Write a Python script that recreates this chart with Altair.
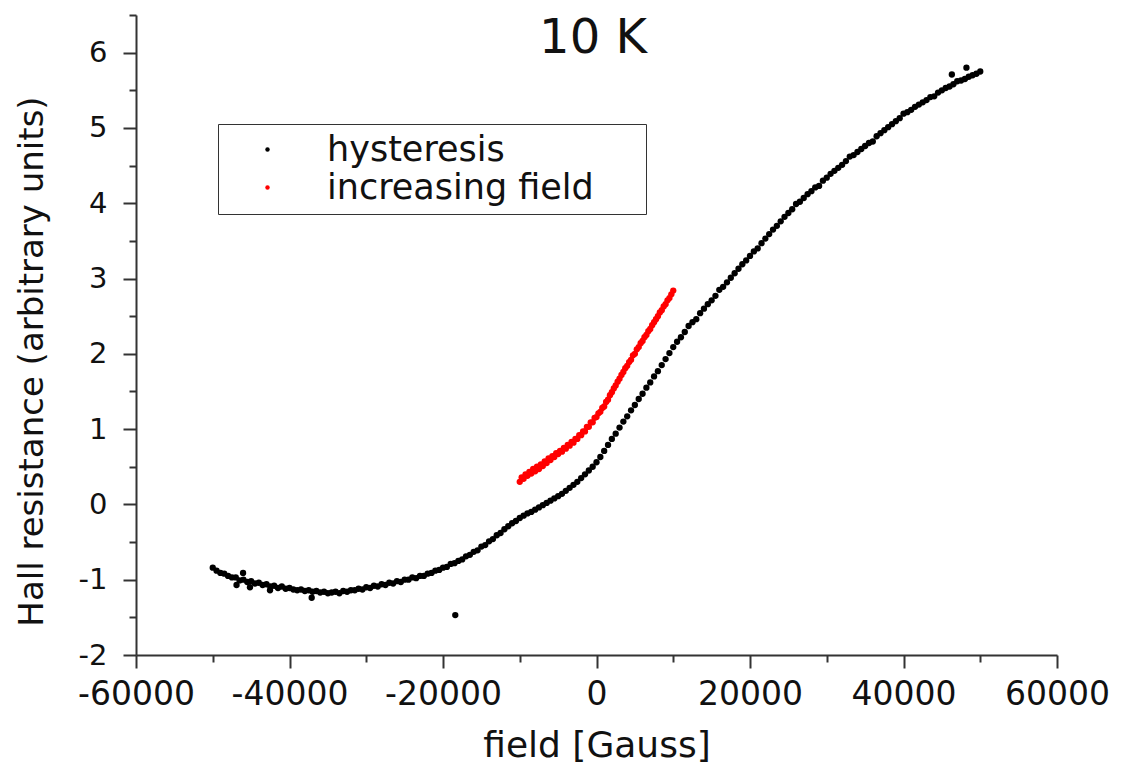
import altair as alt
import pandas as pd

# ---- hysteresis loop (black), field in Gauss ----
hyst_field = [
    -50000, -49500, -49000, -48500, -48000, -47500, -47000, -46500, -46000, -45500,
    -45000, -44500, -44000, -43500, -43000, -42500, -42000, -41500, -41000, -40500,
    -40000, -39500, -39000, -38500, -38000, -37500, -37000, -36500, -36000, -35500,
    -35000, -34500, -34000, -33500, -33000, -32500, -32000, -31500, -31000, -30500,
    -30000, -29500, -29000, -28500, -28000, -27500, -27000, -26500, -26000, -25500,
    -25000, -24500, -24000, -23500, -23000, -22500, -22000, -21500, -21000, -20500,
    -20000, -19500, -19000, -18500, -18000, -17500, -17000, -16500, -16000, -15500,
    -15000, -14500, -14000, -13500, -13000, -12500, -12000, -11500, -11000, -10500,
    -10000, -9500, -9000, -8500, -8000, -7500, -7000, -6500, -6000, -5500,
    -5000, -4500, -4000, -3500, -3000, -2500, -2000, -1500, -1000, -500,
    0, 500, 1000, 1500, 2000, 2500, 3000, 3500, 4000, 4500,
    5000, 5500, 6000, 6500, 7000, 7500, 8000, 8500, 9000, 9500,
    10000, 10500, 11000, 11500, 12000, 12500, 13000, 13500, 14000, 14500,
    15000, 15500, 16000, 16500, 17000, 17500, 18000, 18500, 19000, 19500,
    20000, 20500, 21000, 21500, 22000, 22500, 23000, 23500, 24000, 24500,
    25000, 25500, 26000, 26500, 27000, 27500, 28000, 28500, 29000, 29500,
    30000, 30500, 31000, 31500, 32000, 32500, 33000, 33500, 34000, 34500,
    35000, 35500, 36000, 36500, 37000, 37500, 38000, 38500, 39000, 39500,
    40000, 40500, 41000, 41500, 42000, 42500, 43000, 43500, 44000, 44500,
    45000, 45500, 46000, 46500, 47000, 47500, 48000, 48500, 49000, 49500,
    50000,
]
hyst_value = [
    -0.84, -0.88, -0.91, -0.92, -0.95, -0.97, -0.97, -1.01, -1.00, -1.03,
    -1.02, -1.05, -1.04, -1.07, -1.06, -1.09, -1.08, -1.11, -1.09, -1.12,
    -1.11, -1.13, -1.14, -1.13, -1.15, -1.14, -1.16, -1.15, -1.17, -1.16,
    -1.18, -1.17, -1.16, -1.18, -1.15, -1.16, -1.14, -1.14, -1.12, -1.13,
    -1.10, -1.11, -1.08, -1.09, -1.06, -1.07, -1.04, -1.05, -1.02, -1.03,
    -1.00, -1.00, -0.97, -0.98, -0.95, -0.95, -0.92, -0.91, -0.88, -0.87,
    -0.84, -0.83, -0.79, -0.78, -0.75, -0.73, -0.69, -0.67, -0.63, -0.61,
    -0.56, -0.54, -0.49, -0.46, -0.41, -0.38, -0.33, -0.29, -0.25, -0.22,
    -0.18, -0.15, -0.12, -0.10, -0.07, -0.04, -0.01, 0.02, 0.05, 0.08,
    0.11, 0.14, 0.18, 0.22, 0.26, 0.30, 0.35, 0.40, 0.45, 0.50,
    0.56, 0.63, 0.71, 0.79, 0.87, 0.94, 1.02, 1.10, 1.17, 1.25,
    1.32, 1.40, 1.47, 1.55, 1.62, 1.70, 1.77, 1.85, 1.93, 2.01,
    2.09, 2.16, 2.22, 2.29, 2.37, 2.42, 2.46, 2.54, 2.60, 2.66,
    2.71, 2.77, 2.85, 2.89, 2.95, 3.01, 3.07, 3.13, 3.19, 3.24,
    3.30, 3.36, 3.40, 3.47, 3.53, 3.59, 3.65, 3.70, 3.76, 3.82,
    3.87, 3.92, 3.99, 4.02, 4.07, 4.12, 4.16, 4.21, 4.23, 4.30,
    4.34, 4.39, 4.43, 4.47, 4.51, 4.56, 4.62, 4.64, 4.68, 4.72,
    4.76, 4.80, 4.82, 4.89, 4.93, 4.97, 5.01, 5.05, 5.09, 5.13,
    5.19, 5.21, 5.24, 5.28, 5.31, 5.34, 5.37, 5.41, 5.42, 5.47,
    5.50, 5.53, 5.55, 5.58, 5.62, 5.63, 5.65, 5.68, 5.70, 5.72,
    5.75,
]
# scattered stray points of the hysteresis sweep
stray_field = [-46900, -46050, -45150, -42540, -37110, -18400, 46300, 48200]
stray_value = [-1.07, -0.91, -1.10, -1.14, -1.24, -1.47, 5.71, 5.80]

# ---- increasing field (red) ----
inc_field = [
    -10000, -9750, -9500, -9250, -9000, -8750, -8500, -8250, -8000, -7750,
    -7500, -7250, -7000, -6750, -6500, -6250, -6000, -5750, -5500, -5250,
    -5000, -4750, -4500, -4250, -4000, -3750, -3500, -3250, -3000, -2750,
    -2500, -2250, -2000, -1750, -1500, -1250, -1000, -750, -500, -250,
    0, 250, 500, 750, 1000, 1250, 1500, 1750, 2000, 2250,
    2500, 2750, 3000, 3250, 3500, 3750, 4000, 4250, 4500, 4750,
    5000, 5250, 5500, 5750, 6000, 6250, 6500, 6750, 7000, 7250,
    7500, 7750, 8000, 8250, 8500, 8750, 9000, 9250, 9500, 9750,
    10000,
]
inc_value = [
    0.30, 0.36, 0.34, 0.40, 0.38, 0.43, 0.41, 0.47, 0.44, 0.50,
    0.47, 0.53, 0.51, 0.57, 0.55, 0.61, 0.59, 0.64, 0.63, 0.68,
    0.67, 0.71, 0.70, 0.75, 0.74, 0.79, 0.78, 0.83, 0.82, 0.87,
    0.87, 0.92, 0.92, 0.97, 0.97, 1.03, 1.03, 1.09, 1.09, 1.15,
    1.16, 1.21, 1.23, 1.28, 1.30, 1.36, 1.39, 1.45, 1.49, 1.54,
    1.58, 1.63, 1.67, 1.72, 1.76, 1.81, 1.84, 1.89, 1.92, 1.98,
    2.00, 2.06, 2.09, 2.14, 2.17, 2.22, 2.25, 2.30, 2.33, 2.38,
    2.42, 2.46, 2.50, 2.55, 2.58, 2.63, 2.66, 2.71, 2.74, 2.79,
    2.84,
]

series_names = ["hysteresis", "increasing field"]
series_colors = ["#000000", "#ff0000"]
title_text = ["10 K"]

x_ticks = [-60000, -50000, -40000, -30000, -20000, -10000, 0,
           10000, 20000, 30000, 40000, 50000, 60000]
y_ticks = [-2, -1.5, -1, -0.5, 0, 0.5, 1, 1.5, 2, 2.5, 3, 3.5,
           4, 4.5, 5, 5.5, 6, 6.5]

df = pd.concat([
    pd.DataFrame({"field": hyst_field, "value": hyst_value, "series": series_names[0]}),
    pd.DataFrame({"field": stray_field, "value": stray_value, "series": series_names[0]}),
    pd.DataFrame({"field": inc_field, "value": inc_value, "series": series_names[1]}),
], ignore_index=True)

FONT = "DejaVu Sans"
AXC = "#333333"

points = alt.Chart(df).mark_circle(size=40, opacity=1).encode(
    x=alt.X(
        "field:Q",
        scale=alt.Scale(domain=[-60000, 60000], nice=False, zero=False),
        axis=alt.Axis(
            values=x_ticks,
            title="field [Gauss]",
            labelExpr="datum.value % 20000 == 0 ? '' + datum.value : ''",
            tickSize={"condition": {"test": "datum.value % 20000 == 0", "value": 13}, "value": 7},
            labelFontSize=33,
            labelPadding=10,
            labelFlush=False,
            labelOverlap=False,
            titleFontSize=36,
            titleBaseline="alphabetic",
            titleY=101,
        ),
    ),
    y=alt.Y(
        "value:Q",
        scale=alt.Scale(domain=[-2, 6.5], nice=False, zero=False),
        axis=alt.Axis(
            values=y_ticks,
            title="Hall resistance (arbitrary units)",
            labelExpr="datum.value % 1 == 0 ? '' + datum.value : ''",
            tickSize={"condition": {"test": "datum.value % 1 == 0", "value": 13}, "value": 7},
            labelFontSize=29,
            labelPadding=16,
            labelOverlap=False,
            titleFontSize=34,
            titleBaseline="alphabetic",
            titleAngle=270,
            titleAlign="center",
            titleX=-94,
            titleY=346,
        ),
    ),
    color=alt.Color(
        "series:N",
        scale=alt.Scale(domain=series_names, range=series_colors),
        legend=alt.Legend(
            title=None,
            orient="none",
            legendX=82,
            legendY=109,
            strokeColor=AXC,
            padding=8,
            labelFont=FONT,
            labelFontSize=35,
            labelColor="#111111",
            labelLimit=500,
            labelOffset=42,
            symbolOffset=24,
            symbolType="circle",
            symbolSize=20,
            symbolStrokeWidth=0,
            rowPadding=2,
            labelExpr="datum.label + '\u2800\u00a0\u2009\u200b'",
        ),
    ),
)

title = alt.Chart(pd.DataFrame({"t": title_text})).mark_text(
    font=FONT, fontSize=48, color="#111111", align="center", baseline="alphabetic",
).encode(
    text="t:N",
    x=alt.value(457),
    y=alt.value(38),
)

chart = alt.layer(points, title).properties(
    width=921,
    height=640,
    autosize=alt.AutoSizeParams(type="none"),
    padding={"left": 128, "top": 7, "right": 54, "bottom": 112},
).configure_view(
    stroke=None
).configure_axis(
    grid=False,
    domainColor=AXC,
    domainWidth=2,
    tickColor=AXC,
    tickWidth=2,
    labelColor="#111111",
    titleColor="#111111",
    labelFont=FONT,
    titleFont=FONT,
    titleFontWeight="normal",
)

chart.save("out.html", embed_options={"renderer": "svg", "actions": False})
